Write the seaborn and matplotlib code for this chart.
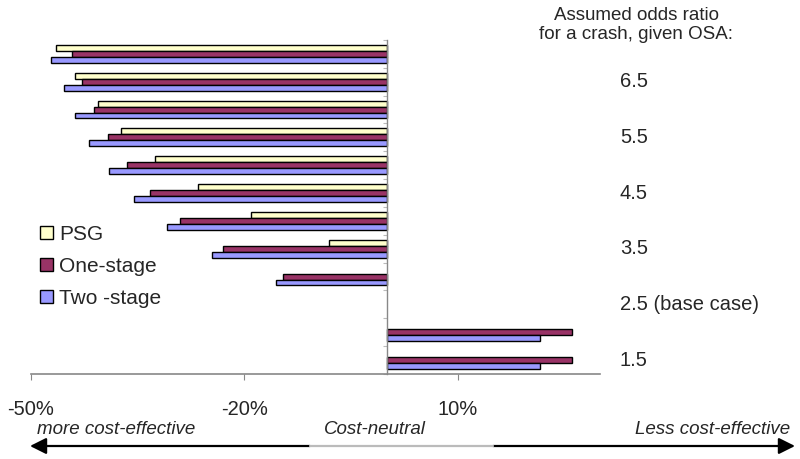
import numpy as np
import pandas as pd
import matplotlib
matplotlib.use('Agg')
import matplotlib.pyplot as plt
import seaborn as sns

# odds ratios, top to bottom; labels only on every other row
odds = ['7.0', '6.5', '6.0', '5.5', '5.0', '4.5', '4.0', '3.5', '3.0', '2.5', '2.0', '1.5']
odds_labels = ['6.5', '5.5', '4.5', '3.5', '2.5 (base case)', '1.5']
methods = ['PSG', 'One-stage', 'Two -stage']
nan = np.nan
psg = [-46.5, -43.8, -40.6, -37.4, -32.5, -26.5, -19.0, -8.1, nan, 0.0, nan, nan]
one_stage = [-44.3, -42.8, -41.1, -39.2, -36.5, -33.2, -29.1, -23.0, -14.5, 0.0, 26.1, 26.1]
two_stage = [-47.2, -45.3, -43.8, -41.8, -39.0, -35.5, -30.9, -24.5, -15.6, 0.0, 21.5, 21.5]
xticks = [-50, -20, 10]
colors = ['#FFFFCC', '#993366', '#9999FF']

df = pd.DataFrame({
    'odds': odds * 3,
    'method': [m for m in methods for _ in odds],
    'value': psg + one_stage + two_stage,
})
# base case is cost-neutral (0), nothing drawn there
df = df[df['value'].fillna(0) != 0]

sns.set_style('white')
plt.rcParams['font.family'] = ['Liberation Sans', 'DejaVu Sans']

fig = plt.figure(figsize=(8, 4.59), dpi=100)
ax = fig.add_axes([0.03875, 0.1852, 0.71125, 0.7277])

sns.barplot(data=df, x='value', y='odds', hue='method', order=odds, hue_order=methods,
            palette=colors, orient='h', width=0.64, edgecolor='black', linewidth=1.0,
            errorbar=None, saturation=1, ax=ax)

ax.set_xlim(-50, 30)
ax.set_ylim(11.5, -0.5)
ax.set_xlabel('')
ax.set_ylabel('')

for s in ['top', 'right']:
    ax.spines[s].set_visible(False)
ax.spines['left'].set_position(('data', 0))
ax.spines['left'].set_color('#888888')
ax.spines['bottom'].set_color('#888888')
ax.spines['left'].set_linewidth(1.0)
ax.spines['bottom'].set_linewidth(1.2)

ax.set_yticks(np.arange(-0.5, 12, 1))
ax.set_yticklabels([])
ax.tick_params(axis='y', direction='out', length=3, color='#bbbbbb', left=True)

ax.set_xticks(xticks)
ax.set_xticklabels([f'{t}%' for t in xticks], fontsize=14.5)
ax.tick_params(axis='x', direction='out', length=4.5, color='#888888', pad=14, bottom=True)

# right side odds ratio labels
trans = matplotlib.transforms.blended_transform_factory(ax.transAxes, ax.transData)
for i, lab in enumerate(odds_labels):
    ax.text(1.035, 2 * i + 1, lab, transform=trans, ha='left', va='center', fontsize=14.5)

fig.text(0.795, 0.9455, 'Assumed odds ratio\nfor a crash, given OSA:', ha='center', va='center',
         fontsize=13.5, linespacing=1.2)

handles, labels = ax.get_legend_handles_labels()
ax.legend(handles, labels, loc='upper left', bbox_to_anchor=(0.0375, 0.533),
          bbox_transform=fig.transFigure, frameon=False, borderpad=0, fontsize=15,
          handlelength=0.6, handleheight=0.6, handletextpad=0.3, labelspacing=0.62)

# bottom arrow with captions
y_arr = 1 - 446 / 459
y_txt = 1 - 430 / 459
ap = dict(arrowstyle='-|>,head_length=0.7,head_width=0.35', color='black', lw=1.6,
          shrinkA=0, shrinkB=0, mutation_scale=14)
fig.add_artist(plt.Line2D([310 / 800, 493 / 800], [y_arr, y_arr], color='#bbbbbb', lw=1.6))
ax.annotate('', xy=(30 / 800, y_arr), xytext=(310 / 800, y_arr), xycoords='figure fraction',
            textcoords='figure fraction', arrowprops=ap, annotation_clip=False)
ax.annotate('', xy=(795 / 800, y_arr), xytext=(493 / 800, y_arr), xycoords='figure fraction',
            textcoords='figure fraction', arrowprops=ap, annotation_clip=False)
fig.text(37 / 800, y_txt, 'more cost-effective', ha='left', va='center', style='italic',
         fontsize=13.5)
fig.text(375 / 800, y_txt, 'Cost-neutral', ha='center', va='center', style='italic',
         fontsize=13.5)
fig.text(790 / 800, y_txt, 'Less cost-effective', ha='right', va='center', style='italic',
         fontsize=13.5)

fig.savefig('out.png', dpi=100)
